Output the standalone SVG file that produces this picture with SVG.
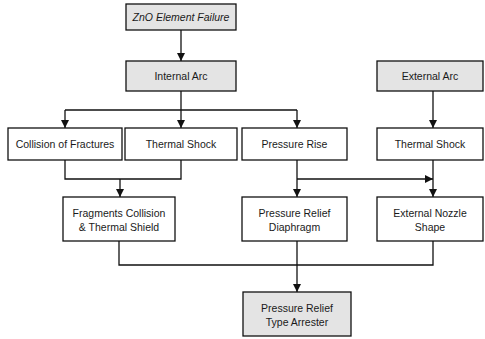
<svg xmlns="http://www.w3.org/2000/svg" width="485" height="339" viewBox="0 0 485 339">
<style>
.box{stroke:#111;stroke-width:1.3;fill:#fff}
.gray{fill:#e4e4e4}
text{font-family:"Liberation Sans",Arial,sans-serif;font-size:10.5px;fill:#1a1a1a;text-anchor:middle}
.it{font-style:italic}
.c{fill:none;stroke:#111;stroke-width:1.3}
</style>
<defs>
<marker id="ah" viewBox="0 0 10 10" refX="10" refY="5" markerWidth="8" markerHeight="8" markerUnits="userSpaceOnUse" orient="auto">
<path d="M0,0 L10,5 L0,10 Z" fill="#111"/>
</marker>
</defs>
<g id="connectors">
<path class="c" d="M181,30 V61" marker-end="url(#ah)"/>
<path class="c" d="M181,91 V110"/>
<path class="c" d="M65,110 H297"/>
<path class="c" d="M65,110 V128" marker-end="url(#ah)"/>
<path class="c" d="M181,110 V128" marker-end="url(#ah)"/>
<path class="c" d="M297,110 V128" marker-end="url(#ah)"/>
<path class="c" d="M433,91 V128" marker-end="url(#ah)"/>
<path class="c" d="M65,160 V179 H181 V160"/>
<path class="c" d="M120,179 V197" marker-end="url(#ah)"/>
<path class="c" d="M297,160 V197" marker-end="url(#ah)"/>
<path class="c" d="M297,179 H433" marker-end="url(#ah)"/>
<path class="c" d="M433,160 V197" marker-end="url(#ah)"/>
<path class="c" d="M119,241 V265 H433 V241"/>
<path class="c" d="M297,241 V292" marker-end="url(#ah)"/>
</g>
<g id="zno">
<rect class="box gray" x="126" y="4" width="110" height="26"/>
<text class="it" x="181" y="20.5">ZnO Element Failure</text>
</g>
<g id="internal-arc">
<rect class="box gray" x="126" y="61" width="110" height="30"/>
<text x="181" y="79.5">Internal Arc</text>
</g>
<g id="external-arc">
<rect class="box gray" x="377" y="61" width="106" height="30"/>
<text x="430" y="79.5">External Arc</text>
</g>
<g id="collision">
<rect class="box" x="8" y="128" width="114" height="32"/>
<text x="65" y="147.5">Collision of Fractures</text>
</g>
<g id="thermal-shock-1">
<rect class="box" x="125" y="128" width="112" height="32"/>
<text x="181" y="147.5">Thermal Shock</text>
</g>
<g id="pressure-rise">
<rect class="box" x="242" y="128" width="105" height="32"/>
<text x="294.5" y="147.5">Pressure Rise</text>
</g>
<g id="thermal-shock-2">
<rect class="box" x="377" y="128" width="106" height="32"/>
<text x="430" y="147.5">Thermal Shock</text>
</g>
<g id="fragments">
<rect class="box" x="63" y="197" width="112" height="44"/>
<text x="119" y="216.5">Fragments Collision</text>
<text x="119" y="231">&amp; Thermal Shield</text>
</g>
<g id="diaphragm">
<rect class="box" x="242" y="197" width="105" height="44"/>
<text x="294.5" y="216.5">Pressure Relief</text>
<text x="294.5" y="231">Diaphragm</text>
</g>
<g id="nozzle">
<rect class="box" x="377" y="197" width="106" height="44"/>
<text x="430" y="216.5">External Nozzle</text>
<text x="430" y="231">Shape</text>
</g>
<g id="arrester">
<rect class="box gray" x="243" y="292" width="108" height="44"/>
<text x="297" y="311.5">Pressure Relief</text>
<text x="297" y="326">Type Arrester</text>
</g>
</svg>
